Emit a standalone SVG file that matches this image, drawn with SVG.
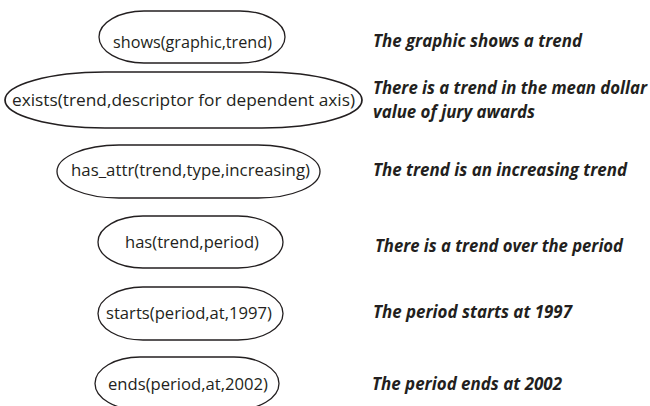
<svg xmlns="http://www.w3.org/2000/svg" width="650" height="406" viewBox="0 0 650 406">
<style>
.n{fill:#fff;stroke:#231f20;stroke-width:1.3}
.t{font-family:"Open Sans","Liberation Sans",sans-serif;font-size:17px;fill:#231f20;text-anchor:start}
.d{font-family:"Open Sans","Liberation Sans",sans-serif;font-size:17px;font-weight:bold;font-style:italic;fill:#231f20}
</style>
<rect width="650" height="406" fill="#fff"/>
<g id="node-shows">
<rect class="n" x="99" y="11" width="186" height="52" rx="45" ry="26"/>
<text class="t" x="113" y="48" textLength="159" lengthAdjust="spacingAndGlyphs">shows(graphic,trend)</text>
</g>
<g id="node-exists">
<rect class="n" x="5" y="72" width="357" height="56" rx="100" ry="28" style="stroke-width:1.7"/>
<text class="t" x="12" y="106" textLength="343" lengthAdjust="spacingAndGlyphs">exists(trend,descriptor for dependent axis)</text>
</g>
<g id="node-has_attr">
<rect class="n" x="57" y="145" width="263" height="53" rx="62" ry="26.5"/>
<text class="t" x="71" y="176" textLength="239" lengthAdjust="spacingAndGlyphs">has_attr(trend,type,increasing)</text>
</g>
<g id="node-has">
<rect class="n" x="98" y="216" width="185" height="52" rx="45" ry="26"/>
<text class="t" x="125" y="248" textLength="134" lengthAdjust="spacingAndGlyphs">has(trend,period)</text>
</g>
<g id="node-starts">
<rect class="n" x="98" y="287" width="185" height="53" rx="45" ry="26.5"/>
<text class="t" x="106" y="319" textLength="166" lengthAdjust="spacingAndGlyphs">starts(period,at,1997)</text>
</g>
<g id="node-ends">
<rect class="n" x="95" y="357" width="184" height="53" rx="45" ry="26.5"/>
<text class="t" x="108" y="390" textLength="160" lengthAdjust="spacingAndGlyphs">ends(period,at,2002)</text>
</g>
<g id="descriptions">
<text class="d" x="373" y="47" textLength="209" lengthAdjust="spacingAndGlyphs">The graphic shows a trend</text>
<text class="d" x="373" y="94" textLength="274" lengthAdjust="spacingAndGlyphs">There is a trend in the mean dollar</text>
<text class="d" x="373" y="118" textLength="162" lengthAdjust="spacingAndGlyphs">value of jury awards</text>
<text class="d" x="373" y="176" textLength="254" lengthAdjust="spacingAndGlyphs">The trend is an increasing trend</text>
<text class="d" x="375" y="252" textLength="248" lengthAdjust="spacingAndGlyphs">There is a trend over the period</text>
<text class="d" x="373" y="318" textLength="199" lengthAdjust="spacingAndGlyphs">The period starts at 1997</text>
<text class="d" x="372" y="390" textLength="190" lengthAdjust="spacingAndGlyphs">The period ends at 2002</text>
</g>
<g id="connectors"></g>
</svg>
